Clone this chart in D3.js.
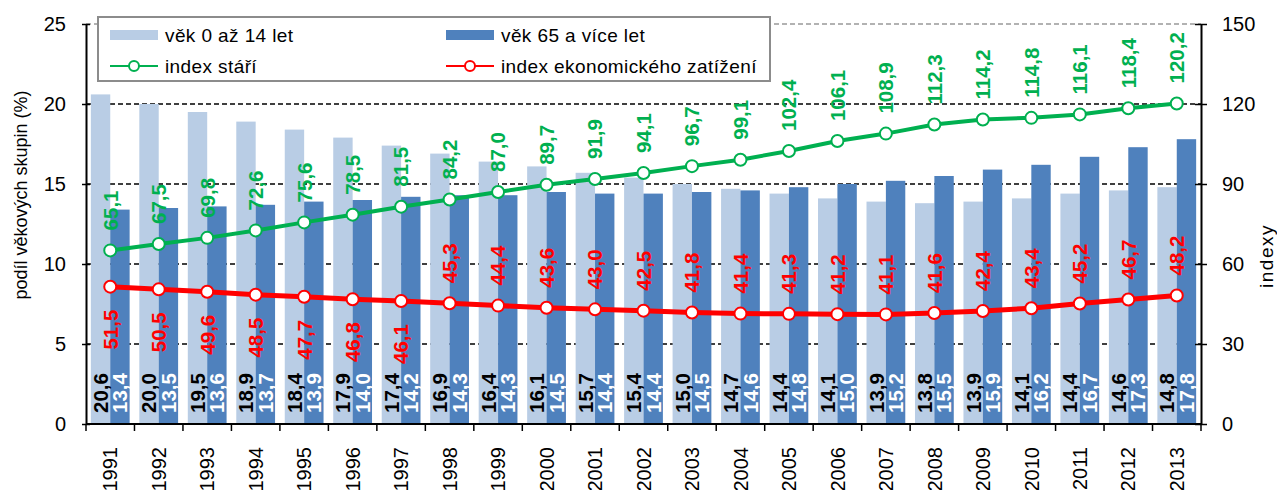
<!DOCTYPE html>
<html>
<head>
<meta charset="utf-8">
<script src="https://cdn.jsdelivr.net/npm/d3@7"></script>
<style>
body{margin:0;background:#fff}
svg{display:block;font-family:"Liberation Sans",Arial,sans-serif}
</style>
</head>
<body>
<script>
var years = ['1991','1992','1993','1994','1995','1996','1997','1998','1999','2000','2001','2002',
	'2003','2004','2005','2006','2007','2008','2009','2010','2011','2012','2013'];
var youngShare = [20.6,20.0,19.5,18.9,18.4,17.9,17.4,16.9,16.4,16.1,15.7,15.4,15.0,14.7,14.4,14.1,13.9,13.8,13.9,14.1,14.4,14.6,14.8];
var oldShare = [13.4,13.5,13.6,13.7,13.9,14.0,14.2,14.3,14.3,14.5,14.4,14.4,14.5,14.6,14.8,15.0,15.2,15.5,15.9,16.2,16.7,17.3,17.8];
var ageingIndex = [65.1,67.5,69.8,72.6,75.6,78.5,81.5,84.2,87.0,89.7,91.9,94.1,96.7,99.1,102.4,106.1,108.9,112.3,114.2,114.8,116.1,118.4,120.2];
var dependencyIndex = [51.5,50.5,49.6,48.5,47.7,46.8,46.1,45.3,44.4,43.6,43.0,42.5,41.8,41.4,41.3,41.2,41.1,41.6,42.4,43.4,45.2,46.7,48.2];
var leftTicks = [0,5,10,15,20,25];
var rightTicks = [0,30,60,90,120,150];
var seriesNames = ['věk 0 až 14 let','věk 65 a více let','index stáří','index ekonomického zatížení'];

var colors = {young:'#b9cde5', old:'#4f81bd', ageing:'#00b050', dep:'#ff0000'};
var fmt = function(v){return v.toFixed(1).replace('.', ',');};
var labelSize = 20.5;

var svg = d3.select('body').append('svg')
	.attr('width',1277)
	.attr('height',490);

var x = d3.scaleBand().domain(years).range([86,1201]).paddingInner(0.2).paddingOuter(0.1);
var xs = d3.scaleBand().domain(['young','old']).range([0,x.bandwidth()]);
var yL = d3.scaleLinear().domain([0,25]).range([424,24]);
var yR = d3.scaleLinear().domain([0,150]).range([424,24]);
var cx = function(i){return x(years[i]) + x.bandwidth()/2;};

// gridlines
svg.append('g').selectAll('line')
	.data(leftTicks.filter(function(t){return t>0;}))
	.enter().append('line')
	.attr('x1',86).attr('x2',1201)
	.attr('y1',function(d){return yL(d);}).attr('y2',function(d){return yL(d);})
	.attr('stroke',function(d){return d===25 ? '#999' : '#000';})
	.attr('stroke-width',1.3)
	.attr('stroke-dasharray','5,3');

// bars
var groups = svg.append('g').selectAll('g')
	.data(years).enter().append('g')
	.attr('transform',function(d){return 'translate('+x(d)+',0)';});
groups.append('rect')
	.attr('x',xs('young')).attr('width',xs.bandwidth())
	.attr('y',function(d,i){return yL(youngShare[i]);})
	.attr('height',function(d,i){return yL(0)-yL(youngShare[i]);})
	.attr('fill',colors.young);
groups.append('rect')
	.attr('x',xs('old')).attr('width',xs.bandwidth())
	.attr('y',function(d,i){return yL(oldShare[i]);})
	.attr('height',function(d,i){return yL(0)-yL(oldShare[i]);})
	.attr('fill',colors.old);

// bar labels
var barLabel = function(values,key,fill){
	groups.append('text')
		.attr('transform',function(d){return 'translate('+(xs(key)+xs.bandwidth()/2)+',413) rotate(-90)';})
		.attr('dy','0.36em')
		.attr('font-size',labelSize).attr('font-weight','bold')
		.attr('fill',fill)
		.text(function(d,i){return fmt(values[i]);});
};
barLabel(youngShare,'young','#000');
barLabel(oldShare,'old','#fff');

// lines
var drawLine = function(values,color,width){
	var line = d3.line()
		.x(function(d,i){return cx(i);})
		.y(function(d){return yR(d);});
	svg.append('path').datum(values)
		.attr('d',line)
		.attr('fill','none')
		.attr('stroke',color)
		.attr('stroke-width',width)
		.attr('stroke-linejoin','round');
	svg.append('g').selectAll('circle')
		.data(values).enter().append('circle')
		.attr('cx',function(d,i){return cx(i);})
		.attr('cy',function(d){return yR(d);})
		.attr('r',6)
		.attr('fill','#fff')
		.attr('stroke',color)
		.attr('stroke-width',2);
};
drawLine(ageingIndex,colors.ageing,4);
drawLine(dependencyIndex,colors.dep,5);

// line labels
svg.append('g').selectAll('text')
	.data(ageingIndex).enter().append('text')
	.attr('transform',function(d,i){return 'translate('+cx(i)+','+(yR(d)-20)+') rotate(-90)';})
	.attr('dy','0.36em')
	.attr('font-size',labelSize).attr('font-weight','bold')
	.attr('fill',colors.ageing)
	.text(fmt);

svg.append('g').selectAll('text')
	.data(dependencyIndex).enter().append('text')
	.attr('transform',function(d,i){
		var below = +years[i] < 1998;
		return 'translate('+cx(i)+','+(below ? yR(d)+23 : yR(d)-20)+') rotate(-90)';
	})
	.attr('text-anchor',function(d,i){return +years[i] < 1998 ? 'end' : 'start';})
	.attr('dy','0.36em')
	.attr('font-size',labelSize).attr('font-weight','bold')
	.attr('fill',colors.dep)
	.text(fmt);

// axes
var leftAxis = svg.append('g')
	.attr('transform','translate(86,0)')
	.call(d3.axisLeft(yL).tickValues(leftTicks).tickSizeInner(4).tickSizeOuter(0).tickPadding(16));
leftAxis.selectAll('.tick line').attr('x1',4);

var rightAxis = svg.append('g')
	.attr('transform','translate(1201,0)')
	.call(d3.axisRight(yR).tickValues(rightTicks).tickSizeInner(6).tickSizeOuter(0).tickPadding(15));
rightAxis.selectAll('.tick line').attr('x1',-6);

var bottomAxis = svg.append('g')
	.attr('transform','translate(0,424)')
	.call(d3.axisBottom(x).tickSize(0));
bottomAxis.selectAll('.tick text')
	.attr('transform','rotate(-90)')
	.attr('x',-23).attr('y',0).attr('dy','0.36em')
	.attr('text-anchor','end');
bottomAxis.selectAll('.bound')
	.data(years.concat(['end'])).enter().append('line')
	.attr('class','bound')
	.attr('x1',function(d){return d==='end' ? 1201 : x(d) - x.step()*x.paddingInner()/2;})
	.attr('x2',function(d){return d==='end' ? 1201 : x(d) - x.step()*x.paddingInner()/2;})
	.attr('y1',0).attr('y2',7)
	.attr('stroke','#000').attr('stroke-width',1.5);

[leftAxis,rightAxis,bottomAxis].forEach(function(g){
	g.selectAll('.domain').attr('stroke','#000').attr('stroke-width',2);
	g.selectAll('.tick line').attr('stroke','#000').attr('stroke-width',1.5);
	g.selectAll('.tick text').attr('font-size',20).attr('fill','#000')
		.attr('font-family','"Liberation Sans",Arial,sans-serif');
});
bottomAxis.select('.domain').attr('d','M86,0H1201');

// axis titles
svg.append('text')
	.attr('transform','translate(21,195) rotate(-90)')
	.attr('text-anchor','middle').attr('dy','0.36em')
	.attr('font-size',18)
	.text('podíl věkových skupin (%)');
svg.append('text')
	.attr('transform','translate(1266,256) rotate(-90)')
	.attr('text-anchor','middle').attr('dy','0.36em')
	.attr('font-size',19).attr('letter-spacing',1.5)
	.text('indexy');

// legend
var legend = svg.append('g');
legend.append('rect')
	.attr('x',98).attr('y',17).attr('width',672).attr('height',64)
	.attr('fill','#fff').attr('stroke','#8c8c8c').attr('stroke-width',2);
var legendItems = [
	{name:seriesNames[0], type:'bar', color:colors.young, lx:110, ly:35},
	{name:seriesNames[1], type:'bar', color:colors.old, lx:446, ly:35},
	{name:seriesNames[2], type:'line', color:colors.ageing, lx:110, ly:66},
	{name:seriesNames[3], type:'line', color:colors.dep, lx:446, ly:66}
];
var li = legend.selectAll('.item').data(legendItems).enter().append('g')
	.attr('transform',function(d){return 'translate('+d.lx+','+d.ly+')';});
li.filter(function(d){return d.type==='bar';}).append('rect')
	.attr('x',0).attr('y',-5).attr('width',48).attr('height',10)
	.attr('fill',function(d){return d.color;});
li.filter(function(d){return d.type==='line';}).append('line')
	.attr('x1',0).attr('x2',48).attr('y1',0).attr('y2',0)
	.attr('stroke',function(d){return d.color;}).attr('stroke-width',2);
li.filter(function(d){return d.type==='line';}).append('circle')
	.attr('cx',24).attr('cy',0).attr('r',5)
	.attr('fill','#fff')
	.attr('stroke',function(d){return d.color;}).attr('stroke-width',2);
li.append('text')
	.attr('x',55).attr('y',0).attr('dy','0.36em')
	.attr('font-size',19).attr('letter-spacing',0.4)
	.text(function(d){return d.name;});
</script>
</body>
</html>
